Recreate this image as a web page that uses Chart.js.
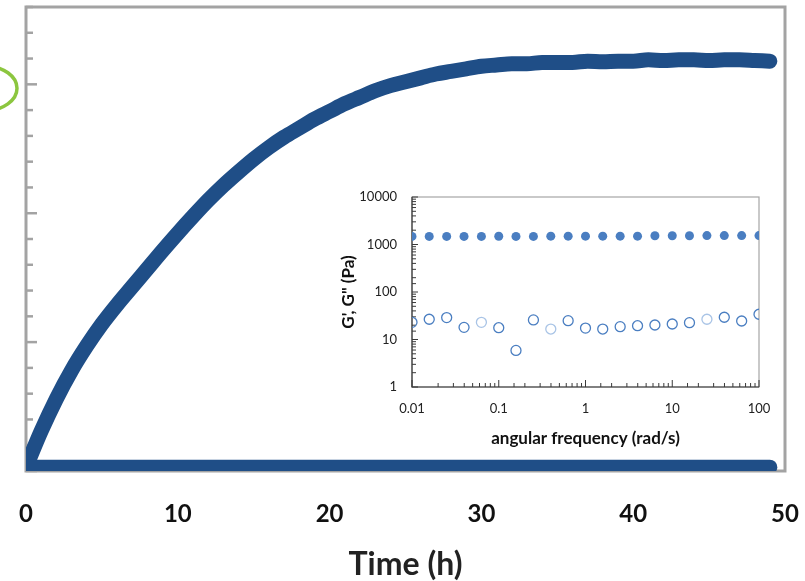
<!DOCTYPE html>
<html>
<head>
<meta charset="utf-8">
<script src="https://cdn.jsdelivr.net/npm/chart.js@4/dist/chart.umd.min.js"></script>
<style>
html, body { margin: 0; padding: 0; background: #fff; }
#wrap { position: relative; width: 805px; height: 581px; overflow: hidden; }
#main { position: absolute; left: 0; top: 0; }
#inset { position: absolute; left: 340px; top: 185px; }
</style>
</head>
<body>
<div id="wrap">
<canvas id="main" width="805" height="581"></canvas>
<canvas id="inset" width="440" height="265"></canvas>
</div>
<script>
// main plot: time sweep (h)
const hours = [0,1,2,3,4,5,6,7,8,9,10,11,12,13,14,15,16,17,18,19,20,21,22,23,24,25,26,27,28,29,30,31,32,33,34,35,36,37,38,39,40,41,42,43,44,45,46,47,48,49]
const gel = [0.03,0.31,0.56,0.78,0.97,1.14,1.29,1.43,1.57,1.71,1.845,1.975,2.10,2.215,2.32,2.42,2.51,2.59,2.66,2.73,2.79,2.85,2.90,2.95,2.99,3.02,3.05,3.08,3.10,3.12,3.14,3.15,3.16,3.16,3.17,3.17,3.17,3.18,3.175,3.18,3.18,3.19,3.185,3.19,3.19,3.185,3.19,3.19,3.185,3.18]
const base = [0.03,0.03,0.03,0.03,0.03,0.03,0.03,0.03,0.03,0.03,0.03,0.03,0.03,0.03,0.03,0.03,0.03,0.03,0.03,0.03,0.03,0.03,0.03,0.03,0.03,0.03,0.03,0.03,0.03,0.03,0.03,0.03,0.03,0.03,0.03,0.03,0.03,0.03,0.03,0.03,0.03,0.03,0.03,0.03,0.03,0.03,0.03,0.03,0.03,0.03]
const timeTicks = [0,10,20,30,40,50]

// inset: frequency sweep
const freq = [0.01,0.0158,0.0251,0.0398,0.0631,0.1,0.158,0.251,0.398,0.631,1,1.58,2.51,3.98,6.31,10,15.8,25.1,39.8,63.1,100]
const gPrime = [1480,1480,1480,1480,1480,1490,1480,1480,1500,1500,1500,1500,1500,1500,1530,1530,1530,1540,1540,1540,1540]
const gDouble = [23,26.7,28.9,18,23,17.7,5.9,25.8,16.6,24.9,17.4,16.6,18.6,19.5,20.2,21.2,22.6,26.7,29.4,24.5,34]

const dark = "#1f4e87"
const blue = "#4a7ec1"
const pale = "#a9c4e6"

function noPad(s) {
  s.paddingLeft = 0
  s.paddingRight = 0
  s.paddingTop = 0
  s.paddingBottom = 0
}

const mainDecor = {
  id: "mainDecor",
  beforeDatasetsDraw(chart) {
    const { ctx, chartArea: a } = chart
    const y = chart.scales.y
    ctx.save()
    ctx.strokeStyle = "#a3a3a3"
    ctx.lineWidth = 3
    ctx.strokeRect(a.left, a.top, a.right - a.left, a.bottom - a.top)
    ctx.lineWidth = 2.5
    y.ticks.forEach(t => {
      const py = y.getPixelForValue(t.value)
      const major = Math.abs(t.value - Math.round(t.value)) < 1e-6
      ctx.beginPath()
      ctx.moveTo(a.left, py)
      ctx.lineTo(a.left + (major ? 11 : 7), py)
      ctx.stroke()
    })
    ctx.restore()
  },
  afterDraw(chart) {
    const { ctx } = chart
    const py = chart.scales.y.getPixelForValue(3)
    ctx.save()
    ctx.strokeStyle = "#8cc63f"
    ctx.lineWidth = 3.5
    ctx.beginPath()
    ctx.ellipse(-14, py + 4, 31, 22, 0, 0, Math.PI * 2)
    ctx.stroke()
    ctx.restore()
  }
}

new Chart(document.getElementById("main"), {
  type: "line",
  data: {
    datasets: [
      {
        data: hours.map((h, i) => ({ x: h, y: base[i] })),
        borderColor: dark,
        borderWidth: 15,
        borderCapStyle: "round",
        borderJoinStyle: "round",
        pointRadius: 0
      },
      {
        data: hours.map((h, i) => ({ x: h, y: gel[i] })),
        borderColor: dark,
        borderWidth: 15,
        borderCapStyle: "round",
        borderJoinStyle: "round",
        pointRadius: 0,
        cubicInterpolationMode: "monotone"
      }
    ]
  },
  options: {
    responsive: false,
    animation: false,
    layout: { padding: { left: 26, top: 7, right: 20, bottom: 0 } },
    plugins: { legend: { display: false }, tooltip: { enabled: false } },
    scales: {
      x: {
        type: "linear",
        min: 0,
        max: 50,
        afterFit: s => { s.height = 110; noPad(s) },
        afterBuildTicks: s => { s.ticks = timeTicks.map(v => ({ value: v })) },
        grid: { display: false, drawTicks: false },
        border: { display: false },
        ticks: { padding: 29, color: "#111", font: { family: "Lato", size: 24, weight: "bold" } },
        title: {
          display: true,
          text: "Time (h)",
          color: "#222",
          font: { family: "Lato", size: 32, weight: "bold", lineHeight: 1 },
          padding: { top: 0, bottom: 0 }
        }
      },
      y: {
        min: 0,
        max: 3.6,
        afterFit: s => { s.width = 0; noPad(s) },
        grid: { display: false, drawTicks: false },
        border: { display: false },
        ticks: { display: false, stepSize: 0.2 }
      }
    }
  },
  plugins: [mainDecor]
})

function decadeLabel(v) {
  const l = Math.log10(v)
  return Math.abs(l - Math.round(l)) < 1e-6 ? String(Number(v.toPrecision(6))) : ""
}

function isDecade(v) {
  const l = Math.log10(v)
  return Math.abs(l - Math.round(l)) < 1e-6
}

const insetDecor = {
  id: "insetDecor",
  beforeDatasetsDraw(chart) {
    const { ctx, chartArea: a } = chart
    const { x, y } = chart.scales
    ctx.save()
    ctx.strokeStyle = "#a6a6a6"
    ctx.lineWidth = 1.2
    ctx.strokeRect(a.left, a.top, a.right - a.left, a.bottom - a.top)
    ctx.strokeStyle = "#3a3a3a"
    ctx.beginPath()
    ctx.moveTo(a.left, a.top)
    ctx.lineTo(a.left, a.bottom)
    ctx.lineTo(a.right, a.bottom)
    ctx.stroke()
    ctx.lineWidth = 1
    x.ticks.forEach(t => {
      const px = x.getPixelForValue(t.value)
      ctx.beginPath()
      ctx.moveTo(px, a.bottom)
      ctx.lineTo(px, a.bottom - (isDecade(t.value) ? 7 : 4))
      ctx.stroke()
    })
    y.ticks.forEach(t => {
      const py = y.getPixelForValue(t.value)
      ctx.beginPath()
      ctx.moveTo(a.left, py)
      ctx.lineTo(a.left + (isDecade(t.value) ? 6 : 4), py)
      ctx.stroke()
    })
    ctx.restore()
  }
}

new Chart(document.getElementById("inset"), {
  type: "scatter",
  data: {
    datasets: [
      {
        data: freq.map((f, i) => ({ x: f, y: gPrime[i] })),
        pointRadius: 4.5,
        pointBackgroundColor: blue,
        pointBorderWidth: 0
      },
      {
        data: freq.map((f, i) => ({ x: f, y: gDouble[i] })),
        pointRadius: 5,
        pointBackgroundColor: "rgba(0,0,0,0)",
        pointBorderColor: freq.map((f, i) => (i === 4 || i === 8 || i === 17) ? pale : blue),
        pointBorderWidth: 1.3
      }
    ]
  },
  options: {
    responsive: false,
    animation: false,
    layout: { padding: { left: 0, top: 12, right: 21, bottom: 0 } },
    plugins: { legend: { display: false }, tooltip: { enabled: false } },
    scales: {
      x: {
        type: "logarithmic",
        min: 0.01,
        max: 100,
        afterFit: s => { s.height = 63; noPad(s) },
        grid: { display: false, drawTicks: false },
        border: { display: false },
        ticks: { autoSkip: false, maxRotation: 0, padding: 14, color: "#222", font: { family: "Lato", size: 13 }, callback: decadeLabel },
        title: {
          display: true,
          text: "angular frequency (rad/s)",
          color: "#111",
          font: { family: "Lato", size: 17, weight: "bold", lineHeight: 1 },
          padding: { top: 0, bottom: 3 }
        }
      },
      y: {
        type: "logarithmic",
        min: 1,
        max: 10000,
        afterFit: s => { s.width = 72; noPad(s) },
        grid: { display: false, drawTicks: false },
        border: { display: false },
        ticks: { autoSkip: false, padding: 15, color: "#222", font: { family: "Lato", size: 13 }, callback: decadeLabel },
        title: {
          display: true,
          text: "G', G\" (Pa)",
          color: "#111",
          font: { family: "Lato", size: 17, weight: "bold", lineHeight: 1 },
          padding: { top: 0, bottom: 0 }
        }
      }
    }
  },
  plugins: [insetDecor]
})
</script>
</body>
</html>
